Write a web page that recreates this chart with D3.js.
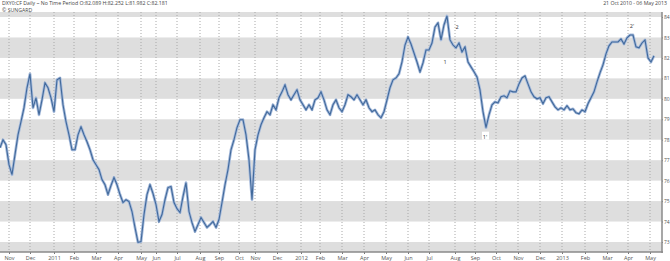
<!DOCTYPE html>
<html lang="en">
<head>
<meta charset="UTF-8">
<title>DXY0:CF Daily</title>
<script src="https://d3js.org/d3.v7.min.js"></script>
<style>
  body { margin: 0; background: #fff; }
  text { font-family: "Open Sans", "DejaVu Sans", sans-serif; }
</style>
</head>
<body>
<svg id="chart" width="670" height="261"></svg>
<script>
// session index (trading days since 21 Oct 2010), one price sample every 3 sessions
const sampleStep = 3;
const totalSessions = 662;
const price = [
  77.61, 78.00, 77.76, 76.78, 76.29, 77.27, 78.24, 78.88, 79.56, 80.54,
  81.22, 79.56, 80.05, 79.22, 79.95, 80.78, 80.54, 80.05, 79.37, 80.93,
  81.02, 79.71, 78.88, 78.24, 77.51, 77.51, 78.24, 78.63, 78.24, 77.90,
  77.51, 77.02, 76.78, 76.54, 76.05, 75.80, 75.32, 75.76, 76.15, 75.80,
  75.32, 74.93, 75.07, 74.98, 74.49, 73.71, 72.98, 73.02, 74.34, 75.32,
  75.80, 75.37, 74.83, 74.00, 74.34, 75.07, 75.66, 75.71, 74.93, 74.63,
  74.44, 75.22, 75.90, 74.49, 73.95, 73.51, 73.85, 74.20, 73.95, 73.71,
  73.85, 74.00, 73.71, 74.10, 74.93, 75.80, 76.54, 77.51, 78.00, 78.59,
  78.98, 78.98, 78.24, 77.02, 75.07, 77.51, 78.24, 78.73, 79.07, 79.37,
  79.22, 79.71, 79.46, 80.05, 80.34, 80.68, 80.20, 79.95, 80.20, 80.44,
  79.95, 79.71, 79.46, 79.71, 79.46, 79.95, 80.05, 80.34, 79.95, 79.46,
  79.22, 79.71, 79.95, 79.56, 79.37, 79.71, 80.20, 80.10, 79.95, 80.20,
  79.95, 79.71, 79.95, 79.56, 79.37, 79.46, 79.22, 79.07, 79.37, 79.95,
  80.54, 80.93, 81.02, 81.22, 81.80, 82.63, 83.02, 82.68, 82.24, 81.80,
  81.32, 81.76, 82.39, 82.39, 82.73, 83.51, 83.71, 82.88, 83.61, 84.05,
  82.88, 82.63, 82.49, 82.73, 82.29, 82.54, 81.80, 81.56, 81.32, 81.07,
  80.44, 79.37, 78.59, 79.22, 79.71, 79.85, 79.80, 80.10, 80.15, 80.05,
  80.39, 80.34, 80.34, 80.73, 81.02, 81.12, 80.73, 80.34, 80.10, 80.00,
  80.05, 79.76, 80.05, 80.10, 79.85, 79.61, 79.46, 79.56, 79.46, 79.66,
  79.46, 79.51, 79.32, 79.27, 79.46, 79.37, 79.76, 80.05, 80.34, 80.83,
  81.27, 81.66, 82.20, 82.59, 82.78, 82.78, 82.78, 82.93, 82.68, 82.98,
  83.12, 83.12, 82.54, 82.49, 82.73, 82.88, 82.00, 81.80, 82.10
];

// x axis: first session of each month
const monthLabels = ["Nov", "Dec", "2011", "Feb", "Mar", "Apr", "May", "Jun", "Jul", "Aug", "Sep", "Oct",
  "Nov", "Dec", "2012", "Feb", "Mar", "Apr", "May", "Jun", "Jul", "Aug", "Sep", "Oct",
  "Nov", "Dec", "2013", "Feb", "Mar", "Apr", "May"];
const monthStart = [9, 30, 54, 74, 96, 118, 141, 156, 177, 200, 219, 239,
  255, 277, 301, 320, 342, 364, 386, 408, 429, 455, 475, 496,
  518, 540, 562, 585, 607, 628, 650];

// y axis
const priceTicks = [73, 74, 75, 76, 77, 78, 79, 80, 81, 82, 83, 84];
const bandStarts = [72, 74, 76, 78, 80, 82, 84];

// wave annotations [session, price, label]
const waveNotes = [[445, 81.78, "1"], [457, 83.51, "2"], [485, 78.15, "1'"], [632, 83.56, "2'"]];

const headerLeft = "DXY0:CF Daily ~  No Time Period O:82.089 H:82.252 L:81.982 C:82.181";
const headerSub = "\u00a9 SUNGARD";
const headerRight = "21 Oct 2010  -  06 May 2013";

const svg = d3.select("#chart");
const plot = { left: 0, right: 662, top: 12, bottom: 252 };

const x = d3.scaleLinear().domain([0, totalSessions]).range([plot.left, plot.right]);
const y = d3.scaleLinear().domain([73, 84]).range([242, 17]);

svg.append("clipPath").attr("id", "plotClip")
  .append("rect")
  .attr("x", plot.left).attr("y", plot.top)
  .attr("width", plot.right - plot.left).attr("height", plot.bottom - plot.top);

const g = svg.append("g").attr("clip-path", "url(#plotClip)");

// alternating grey bands
g.selectAll(".band")
  .data(bandStarts)
  .enter().append("rect")
  .attr("x", plot.left)
  .attr("width", plot.right - plot.left)
  .attr("y", d => y(d + 1))
  .attr("height", d => y(d) - y(d + 1))
  .attr("fill", "#dedede");

// dotted month gridlines
g.selectAll(".vgrid")
  .data(monthStart)
  .enter().append("line")
  .attr("x1", d => x(d)).attr("x2", d => x(d))
  .attr("y1", plot.top).attr("y2", plot.bottom)
  .attr("stroke", "#a8a8a8")
  .attr("stroke-width", 1)
  .attr("stroke-dasharray", "1,2");

// price line
const line = d3.line()
  .x((d, i) => x(i * sampleStep))
  .y(d => y(d));

g.append("path")
  .datum(price)
  .attr("d", line)
  .attr("fill", "none")
  .attr("stroke", "#a5badb")
  .attr("stroke-width", 2.8)
  .attr("stroke-linejoin", "round");

g.append("path")
  .datum(price)
  .attr("d", line)
  .attr("fill", "none")
  .attr("stroke", "#41699b")
  .attr("stroke-width", 1.1)
  .attr("stroke-linejoin", "miter");

// wave labels
const notes = svg.selectAll(".note")
  .data(waveNotes)
  .enter().append("g")
  .attr("transform", d => `translate(${x(d[0])},${y(d[1])})`);

notes.filter(d => d[2] === "1'").append("rect")
  .attr("x", -3).attr("y", -5).attr("width", 7).attr("height", 8)
  .attr("fill", "#fff");

notes.append("text")
  .attr("text-anchor", "middle")
  .attr("dy", "0.35em")
  .attr("font-size", 5.5)
  .attr("fill", "#333")
  .text(d => d[2]);

// axes
const yAxis = d3.axisRight(y).tickValues(priceTicks).tickSize(1).tickPadding(1);
svg.append("g")
  .attr("transform", `translate(${plot.right},0)`)
  .call(yAxis)
  .call(a => a.select(".domain").remove())
  .call(a => a.selectAll("line").attr("stroke", "#777"))
  .call(a => a.selectAll("text").attr("font-size", 5).attr("fill", "#555")
    .attr("font-family", "'Open Sans', sans-serif"));

const xAxis = d3.axisBottom(x).tickValues(monthStart)
  .tickFormat((d, i) => monthLabels[i]).tickSize(2).tickPadding(2);
svg.append("g")
  .attr("transform", `translate(0,${plot.bottom})`)
  .call(xAxis)
  .call(a => a.select(".domain").remove())
  .call(a => a.selectAll("line").attr("stroke", "#777"))
  .call(a => a.selectAll("text").attr("font-size", 5.5).attr("fill", "#555")
    .attr("font-family", "'Open Sans', sans-serif"));

// frame lines (right and bottom)
svg.append("line")
  .attr("x1", plot.right).attr("x2", plot.right)
  .attr("y1", plot.top).attr("y2", plot.bottom + 1)
  .attr("stroke", "#8a8a8a").attr("stroke-width", 1.5);
svg.append("line")
  .attr("x1", plot.left).attr("x2", plot.right + 1)
  .attr("y1", plot.bottom).attr("y2", plot.bottom)
  .attr("stroke", "#8a8a8a").attr("stroke-width", 1.5);

// header
svg.append("text").attr("x", 2).attr("y", 5)
  .attr("font-size", 5.2).attr("fill", "#444").text(headerLeft);
svg.append("text").attr("x", 2).attr("y", 11.5)
  .attr("font-size", 5.2).attr("fill", "#444").text(headerSub);
svg.append("text").attr("x", 667).attr("y", 5).attr("text-anchor", "end")
  .attr("font-size", 5.2).attr("fill", "#444").text(headerRight);
</script>
</body>
</html>
